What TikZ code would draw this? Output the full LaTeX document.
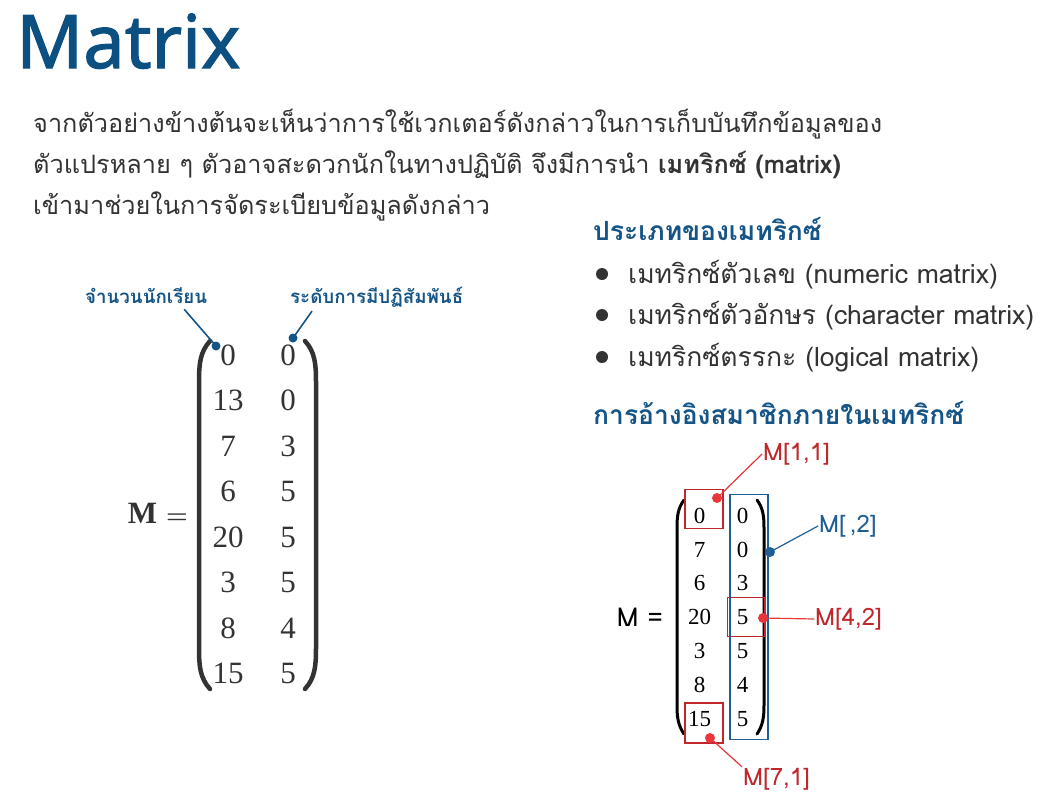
\documentclass[tikz,border=0pt]{standalone}
\usepackage{fontspec}
\setmainfont{Liberation Serif}
\newfontfamily\thaifont[Script=Thai]{Loma}
\newfontfamily\titlefont[FakeBold=1.6]{Noto Sans}
\usetikzlibrary{matrix,fit}
\definecolor{titleblue}{RGB}{12,80,130}
\definecolor{labelblue}{RGB}{20,84,134}
\definecolor{bodygray}{RGB}{51,51,51}
\definecolor{refred}{RGB}{192,39,45}
\definecolor{linered}{RGB}{232,54,58}
\definecolor{refblue}{RGB}{31,95,148}
\begin{document}
\begin{tikzpicture}
		[x=1pt,y=-1pt,
		title/.style={font=\titlefont\fontsize{74}{74}\selectfont,
			text=titleblue, inner sep=0pt, anchor=base west},
		body/.style={font=\thaifont\fontsize{25.3}{25.3}\selectfont,
			text=bodygray, inner sep=0pt, anchor=base west},
		item/.style={body, font=\thaifont\fontsize{26.5}{26.5}\selectfont},
		heading/.style={font=\thaifont\bfseries\fontsize{26.4}{26.4}\selectfont,
			text=labelblue, inner sep=0pt, anchor=base west},
		smalllbl/.style={font=\thaifont\bfseries\fontsize{18.7}{18.7}\selectfont,
			text=labelblue, inner sep=0pt, anchor=base west},
		bullet/.style={circle, fill=bodygray, inner sep=0pt, minimum size=12pt},
		bdot/.style={circle, fill=labelblue, inner sep=0pt, minimum size=9pt},
		rdot/.style={circle, fill=linered, inner sep=0pt, minimum size=10pt},
		cdot/.style={circle, fill=refblue, inner sep=0pt, minimum size=10pt},
		bline/.style={labelblue, line width=1.6pt},
		rline/.style={linered, line width=1.2pt},
		cline/.style={refblue, line width=1.2pt},
		rbox/.style={draw=refred, line width=1.8pt, inner sep=0pt},
		cbox/.style={draw=refblue, line width=1.8pt, inner sep=0pt},
		reflbl/.style={font=\thaifont\fontsize{24}{24}\selectfont, text=refred,
			inner sep=1pt, anchor=west},
		paren/.style={line width=#1, line cap=round, draw=bodygray},
		bigmat/.style={matrix of nodes, inner sep=0pt,
			nodes={font=\fontsize{31}{31}\selectfont, text=bodygray,
				text height=21pt, text depth=0pt, inner sep=0pt,
				minimum width=40pt},
			row sep=24.5pt, column sep=20pt},
		smallmat/.style={matrix of nodes, inner sep=0pt,
			nodes={font=\fontsize{23}{23}\selectfont, text=black,
				text height=15.5pt, text depth=0pt, inner sep=0pt,
				minimum width=30pt},
			row sep=18.3pt, column sep=13pt}]
		\useasboundingbox (0,0) rectangle (1044,801);
		\node[title] (ttl) at (16,68) {Matrix};
		\node[body] (p1) at (33,132) {จากตัวอย่างข้างต้นจะเห็นว่าการใช้เวกเตอร์ดังกล่าวในการเก็บบันทึกข้อมูลของ};
		\node[body] (p2) at (33,173) {ตัวแปรหลาย ๆ ตัวอาจสะดวกนักในทางปฏิบัติ จึงมีการนำ \textbf{เมทริกซ์ (matrix)}};
		\node[body] (p3) at (33,214) {เข้ามาช่วยในการจัดระเบียบข้อมูลดังกล่าว};
		\node[heading] (h1) at (593,240) {ประเภทของเมทริกซ์};
		\foreach \y/\t [count=\i] in {283/{เมทริกซ์ตัวเลข (numeric matrix)},
			324/{เมทริกซ์ตัวอักษร (character matrix)},
			366/{เมทริกซ์ตรรกะ (logical matrix)}}
		{
			\node[bullet] (bul\i) at (602,\y-9) {};
			\node[item] (item\i) at (628,\y) {\t};
		}
		\node[heading] (h2) at (593,424) {การอ้างอิงสมาชิกภายในเมทริกซ์};
		\matrix[bigmat] (L) at (258,514) {
			0 & 0 \\ 13 & 0 \\ 7 & 3 \\ 6 & 5 \\
			20 & 5 \\ 3 & 5 \\ 8 & 4 \\ 15 & 5 \\};
		\draw[paren=4.5pt] (210,341) .. controls (200,352) and (199,364) .. (199,382)
			-- (199,648) .. controls (199,666) and (200,678) .. (210,689);
		\draw[paren=4.5pt] (305,341) .. controls (315,352) and (316,364) .. (316,382)
			-- (316,648) .. controls (316,666) and (315,678) .. (305,689);
		\node[font=\fontsize{31}{31}\selectfont, text=bodygray, anchor=base east,
			inner sep=0pt] (lm) at (188,523) {\textbf{M}\hspace{9pt}{\boldmath$=$}};
		\node[smalllbl] (nstud) at (85,303) {จำนวนนักเรียน};
		\node[smalllbl] (rsoc) at (290,303) {ระดับการมีปฏิสัมพันธ์};
		\node[bdot] (dn) at (216,346) {};
		\node[bdot] (dr) at (293,338) {};
		\draw[bline] ([xshift=-23pt,yshift=-6pt]nstud.south east) -- (dn.center);
		\draw[bline] ([xshift=22pt,yshift=-4pt]rsoc.south west) -- (dr.center);
		\matrix[smallmat] (R) at (721,617) {
			0 & 0 \\ 7 & 0 \\ 6 & 3 \\ 20 & 5 \\
			3 & 5 \\ 8 & 4 \\ 15 & 5 \\};
		\draw[paren=3pt, draw=black] (684,500) .. controls (678,508) and (677,516) .. (677,528)
			-- (677,705) .. controls (677,717) and (678,725) .. (684,734);
		\draw[paren=3pt, draw=black] (757,500) .. controls (763,508) and (764,516) .. (764,528)
			-- (764,705) .. controls (764,717) and (763,725) .. (757,734);
		\node[font=\thaifont\fontsize{26}{26}\selectfont, anchor=base east,
			inner sep=0pt] (rm) at (663,626) {M\hspace{9pt}=};
		\node[rbox, minimum width=38pt, minimum height=39pt] (b11) at (704,509) {};
		\node[rbox, minimum width=38pt, minimum height=40pt] (b71) at (704,723) {};
		\node[rbox, minimum width=37pt, minimum height=39pt] (b42) at (746,617) {};
		\node[cbox, minimum width=38pt, minimum height=245pt] (bc2) at (749,617) {};
		\node[rdot] (d11) at (717,498) {};
		\node[cdot] (dc2) at (770,552) {};
		\node[rdot] (d42) at (763,618) {};
		\node[rdot] (d71) at (710,738) {};
		\node[reflbl] (l11) at (762,454) {M[1,1]};
		\node[reflbl, text=refblue] (lc2) at (818,526) {M[\,,2]};
		\node[reflbl] (l42) at (814,619) {M[4,2]};
		\node[reflbl] (l71) at (742,779) {M[7,1]};
		\draw[rline] (d11.center) -- (l11.west);
		\draw[cline] (dc2.center) -- (lc2.west);
		\draw[rline] (d42.center) -- (l42.west);
		\draw[rline] (d71.center) -- (l71.north west);
	\end{tikzpicture}
\end{document}
